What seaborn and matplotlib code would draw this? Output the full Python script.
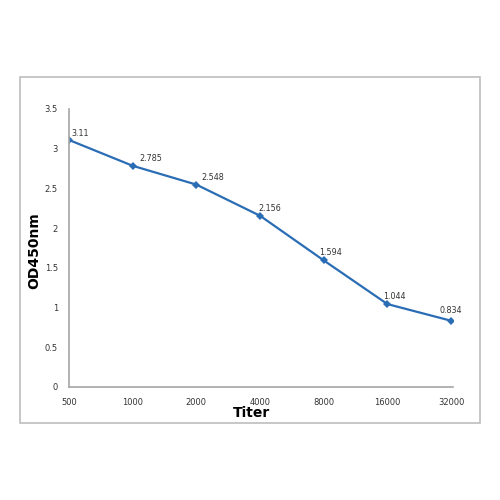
import matplotlib
matplotlib.use("Agg")
import matplotlib.pyplot as plt
import seaborn as sns
import pandas as pd
from matplotlib.patches import Rectangle

titers = ["500", "1000", "2000", "4000", "8000", "16000", "32000"]
od450 = [3.11, 2.785, 2.548, 2.156, 1.594, 1.044, 0.834]
value_labels = ["3.11", "2.785", "2.548", "2.156", "1.594", "1.044", "0.834"]
y_ticks = [0, 0.5, 1, 1.5, 2, 2.5, 3, 3.5]
y_tick_labels = ["0", "0.5", "1", "1.5", "2", "2.5", "3", "3.5"]

# label offsets in pixels (styling only)
label_dx = [11, 18, 16, 10, 7, 7, 0]
label_dy = [6, 7, 7, 7, 8, 8, 10]

sns.set_theme(style="white")
plt.rcParams['font.family'] = ['DejaVu Sans']

fig = plt.figure(figsize=(5, 5), dpi=100)
fig.patch.set_facecolor("white")
fig.patches.append(Rectangle((20/500, 77/500), 460/500, 346/500, transform=fig.transFigure,
                             fill=False, edgecolor="#BDBDBD", linewidth=1.2))
ax = fig.add_axes([69/500, 0.226, 384/500, 0.556])

df = pd.DataFrame({"x": list(range(len(titers))), "od": od450})
sns.lineplot(data=df, x="x", y="od", ax=ax, color="#2B6DB5", linewidth=1.6,
             marker="D", markersize=4, markeredgewidth=0, markerfacecolor="#2B6DB5")

for i, (v, lab) in enumerate(zip(od450, value_labels)):
    ax.annotate(lab, (i, v), xytext=(label_dx[i], label_dy[i]), textcoords="offset pixels",
                ha="center", va="center", fontsize=5.8, color="#333333")

ax.set_xlim(0, 6.03)
ax.set_ylim(0, 3.5)
ax.set_xticks(range(len(titers)))
ax.set_xticklabels(titers, fontsize=6, color="#333333")
ax.set_yticks(y_ticks)
ax.set_yticklabels(y_tick_labels, fontsize=6, color="#333333")
ax.tick_params(axis="both", length=0)
ax.tick_params(axis="x", pad=8)
ax.tick_params(axis="y", pad=8)

for s in ["top", "right"]:
    ax.spines[s].set_visible(False)
for s in ["left", "bottom"]:
    ax.spines[s].set_color("#A6A6A6")
    ax.spines[s].set_linewidth(1.2)

ax.set_xlabel("Titer", fontsize=10, fontweight="bold", color="black")
ax.set_ylabel("OD450nm", fontsize=10, fontweight="bold", color="black")
ax.xaxis.set_label_coords(0.476, -0.094)
ax.yaxis.set_label_coords(-0.091, 0.49)
ax.xaxis.label.set_va("center")
ax.yaxis.label.set_va("center")

fig.savefig("out.png", dpi=100)
